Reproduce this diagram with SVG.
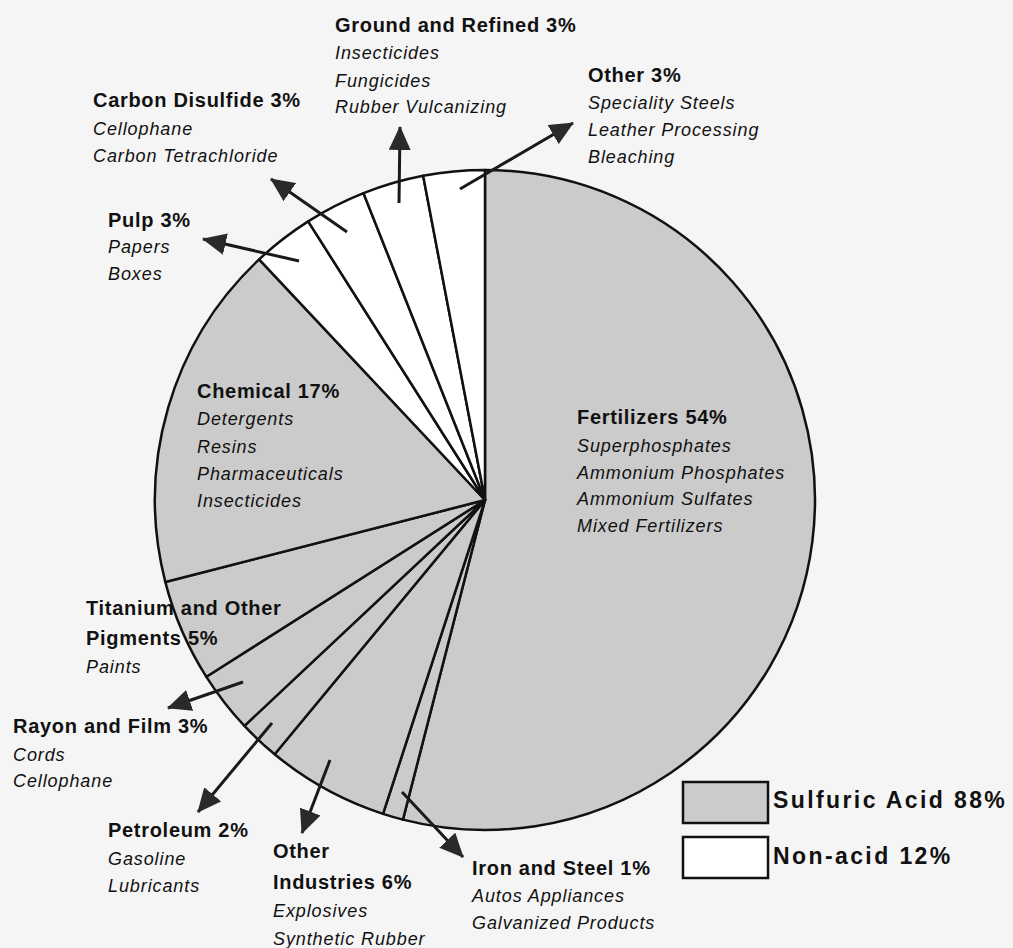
<svg xmlns="http://www.w3.org/2000/svg" width="1013" height="948" viewBox="0 0 1013 948">
<style>
.bg{fill:#f5f5f5}
.acid{fill:#cbcbcb;stroke:#111;stroke-width:2.5;stroke-linejoin:round}
.non{fill:#ffffff;stroke:#111;stroke-width:2.5;stroke-linejoin:round}
.t{font-family:"Liberation Sans",Arial,sans-serif;font-weight:bold;font-size:20px;letter-spacing:0.7px;fill:#111}
.i{font-family:"Liberation Sans",Arial,sans-serif;font-style:italic;font-size:18px;letter-spacing:0.9px;fill:#111}
.lg{font-family:"Liberation Sans",Arial,sans-serif;font-weight:bold;font-size:23px;letter-spacing:2.4px;fill:#111}
.arr{stroke:#1a1a1a;stroke-width:3;fill:none;marker-end:url(#ah)}
.box{stroke:#111;stroke-width:2.5}
</style>
<defs>
<marker id="ah" markerUnits="userSpaceOnUse" markerWidth="24" markerHeight="22" refX="23" refY="11" orient="auto" viewBox="0 0 24 22">
<path d="M0,0 L24,11 L0,22 Z" fill="#2a2a2a"/>
</marker>
</defs>
<rect class="bg" x="0" y="0" width="1013" height="948"/>

<g id="slice-fertilizers">
<path class="acid" d="M485,500 L485,170 A330,330 0 1 1 402.93,819.64 Z"/>
<text class="t" x="577" y="424">Fertilizers 54%</text>
<text class="i" x="577" y="452">Superphosphates</text>
<text class="i" x="577" y="479">Ammonium Phosphates</text>
<text class="i" x="577" y="505">Ammonium Sulfates</text>
<text class="i" x="577" y="532">Mixed Fertilizers</text>
</g>
<g id="slice-iron-steel">
<path class="acid" d="M485,500 L402.93,819.64 A330,330 0 0 1 383.03,813.86 Z"/>
<text class="t" x="472" y="875">Iron and Steel 1%</text>
<text class="i" x="472" y="902">Autos Appliances</text>
<text class="i" x="472" y="929">Galvanized Products</text>
</g>
<g id="slice-other-industries">
<path class="acid" d="M485,500 L383.03,813.86 A330,330 0 0 1 274.66,754.27 Z"/>
<text class="t" x="273" y="858">Other</text>
<text class="t" x="273" y="889">Industries 6%</text>
<text class="i" x="273" y="917">Explosives</text>
<text class="i" x="273" y="945">Synthetic Rubber</text>
</g>
<g id="slice-petroleum">
<path class="acid" d="M485,500 L274.66,754.27 A330,330 0 0 1 244.43,725.89 Z"/>
<text class="t" x="108" y="837">Petroleum 2%</text>
<text class="i" x="108" y="865">Gasoline</text>
<text class="i" x="108" y="892">Lubricants</text>
</g>
<g id="slice-rayon-film">
<path class="acid" d="M485,500 L244.43,725.89 A330,330 0 0 1 206.38,676.81 Z"/>
<text class="t" x="13" y="733">Rayon and Film 3%</text>
<text class="i" x="13" y="761">Cords</text>
<text class="i" x="13" y="787">Cellophane</text>
</g>
<g id="slice-titanium">
<path class="acid" d="M485,500 L206.38,676.81 A330,330 0 0 1 165.36,582.07 Z"/>
<text class="t" x="86" y="615">Titanium and Other</text>
<text class="t" x="86" y="645">Pigments 5%</text>
<text class="i" x="86" y="673">Paints</text>
</g>
<g id="slice-chemical">
<path class="acid" d="M485,500 L165.36,582.07 A330,330 0 0 1 259.11,259.43 Z"/>
<text class="t" x="197" y="398">Chemical 17%</text>
<text class="i" x="197" y="425">Detergents</text>
<text class="i" x="197" y="453">Resins</text>
<text class="i" x="197" y="480">Pharmaceuticals</text>
<text class="i" x="197" y="507">Insecticides</text>
</g>
<g id="slice-pulp">
<path class="non" d="M485,500 L259.11,259.43 A330,330 0 0 1 308.19,221.38 Z"/>
<text class="t" x="108" y="227">Pulp 3%</text>
<text class="i" x="108" y="253">Papers</text>
<text class="i" x="108" y="280">Boxes</text>
</g>
<g id="slice-carbon-disulfide">
<path class="non" d="M485,500 L308.19,221.38 A330,330 0 0 1 363.53,193.17 Z"/>
<text class="t" x="93" y="107">Carbon Disulfide 3%</text>
<text class="i" x="93" y="135">Cellophane</text>
<text class="i" x="93" y="162">Carbon Tetrachloride</text>
</g>
<g id="slice-ground-refined">
<path class="non" d="M485,500 L363.53,193.17 A330,330 0 0 1 423.16,175.84 Z"/>
<text class="t" x="335" y="32">Ground and Refined 3%</text>
<text class="i" x="335" y="59">Insecticides</text>
<text class="i" x="335" y="87">Fungicides</text>
<text class="i" x="335" y="113">Rubber Vulcanizing</text>
</g>
<g id="slice-other">
<path class="non" d="M485,500 L423.16,175.84 A330,330 0 0 1 485,170 Z"/>
<text class="t" x="588" y="82">Other 3%</text>
<text class="i" x="588" y="109">Speciality Steels</text>
<text class="i" x="588" y="136">Leather Processing</text>
<text class="i" x="588" y="163">Bleaching</text>
</g>

<g id="connectors">
<line class="arr" x1="460" y1="189" x2="573" y2="123"/>
<line class="arr" x1="399" y1="203" x2="400" y2="127"/>
<line class="arr" x1="347" y1="232" x2="271" y2="179"/>
<line class="arr" x1="299" y1="261" x2="203" y2="239"/>
<line class="arr" x1="243" y1="682" x2="168" y2="708"/>
<line class="arr" x1="272" y1="723" x2="198" y2="812"/>
<line class="arr" x1="330" y1="760" x2="302" y2="833"/>
<line class="arr" x1="402" y1="792" x2="463" y2="857"/>
</g>

<g id="legend">
<rect class="box" x="683" y="782" width="85" height="41" fill="#cbcbcb"/>
<text class="lg" x="773" y="808">Sulfuric Acid 88%</text>
<rect class="box" x="683" y="837" width="85" height="41" fill="#ffffff"/>
<text class="lg" x="773" y="864">Non-acid 12%</text>
</g>
</svg>
